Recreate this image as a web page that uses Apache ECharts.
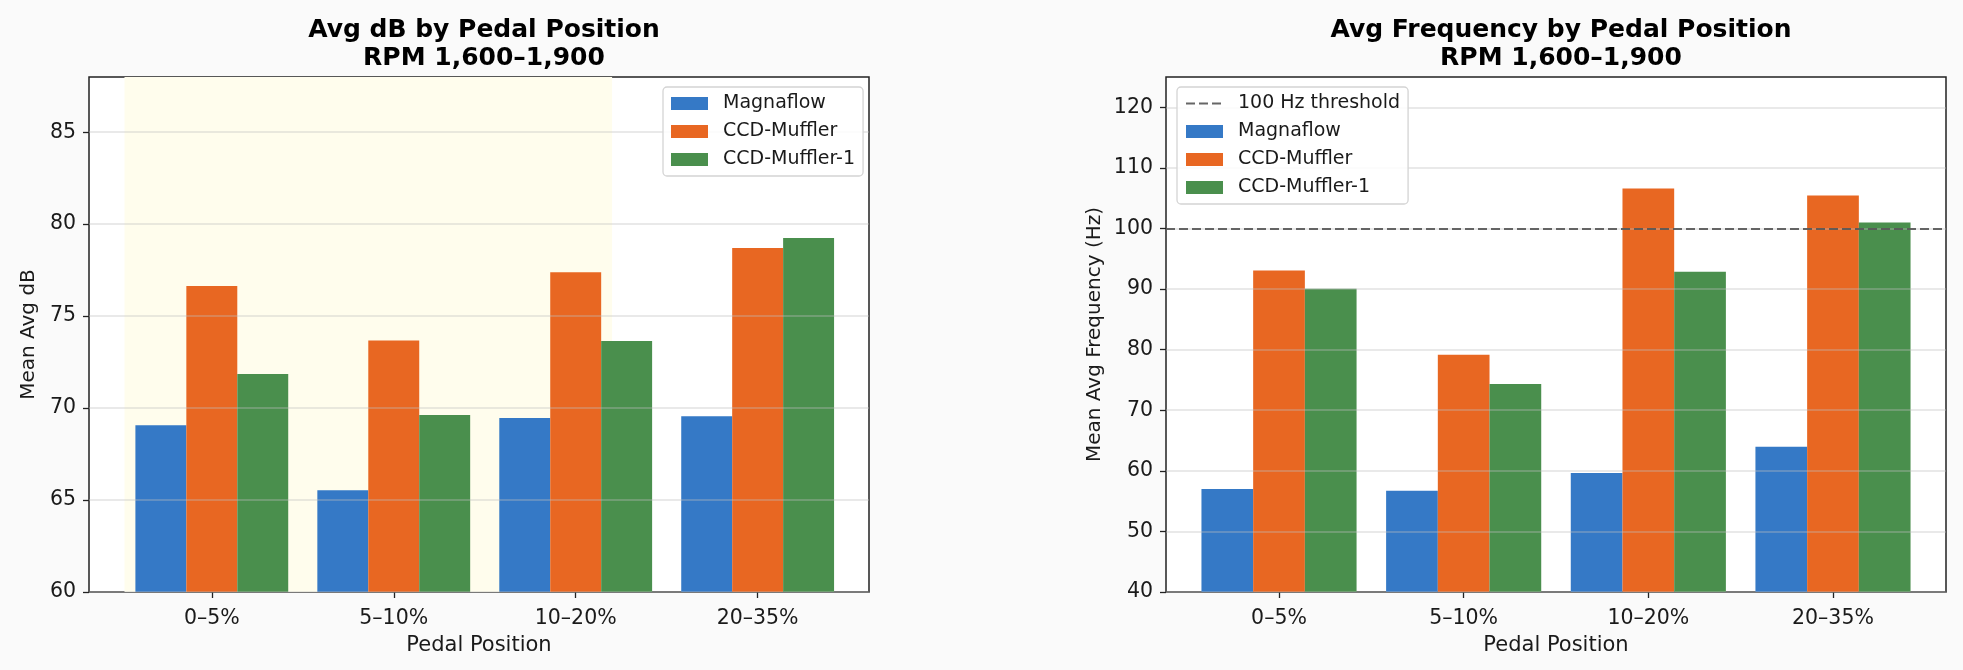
<!DOCTYPE html>
<html>
<head>
<meta charset="utf-8">
<script src="https://cdn.jsdelivr.net/npm/echarts@6/dist/echarts.min.js"></script>
<style>
  html, body { margin: 0; padding: 0; background: #fafafa; }
  #chart { width: 1963px; height: 670px; }
</style>
</head>
<body>
<div id="chart"></div>
<script>
// ---- data ----
const CATEGORIES = ['0–5%', '5–10%', '10–20%', '20–35%'];
const SERIES_NAMES = ['Magnaflow', 'CCD-Muffler', 'CCD-Muffler-1'];
const DB_MAGNAFLOW = [69.07, 65.53, 69.46, 69.55];
const DB_CCD_MUFFLER = [76.64, 73.68, 77.38, 78.70];
const DB_CCD_MUFFLER_1 = [71.85, 69.62, 73.64, 79.24];
const HZ_MAGNAFLOW = [57.0, 56.7, 59.65, 63.97];
const HZ_CCD_MUFFLER = [93.06, 79.16, 106.6, 105.45];
const HZ_CCD_MUFFLER_1 = [90.05, 74.35, 92.86, 100.98];
const DB_TICKS = [60, 65, 70, 75, 80, 85];
const HZ_TICKS = [40, 50, 60, 70, 80, 90, 100, 110, 120];
const THRESHOLD_HZ = 100;
const HIGHLIGHT_SPAN = [-0.48, 2.2];

// ---- style ----
const COLORS = ['#3579c6', '#e86722', '#4a8f4d'];
const FONT = 'DejaVu Sans';
const TXT = '#1a1a1a';
const CAT_X = CATEGORIES.map((c, i) => i);

function pairs(values) { return values.map((v, i) => [i, v]); }

function xAxisFor(gridIndex, min, max) {
  return {
    type: 'value', gridIndex, min, max,
    axisLine: { show: false, onZero: false },
    splitLine: { show: false },
    axisTick: { show: true, customValues: CAT_X, length: 6, lineStyle: { color: '#222', width: 1.3 } },
    axisLabel: { customValues: CAT_X, formatter: v => CATEGORIES[Math.round(v)], fontFamily: FONT, fontSize: 20.5, color: TXT, margin: 16 },
    name: 'Pedal Position', nameLocation: 'middle', nameGap: 43,
    nameTextStyle: { fontFamily: FONT, fontSize: 21, color: TXT }
  };
}
function yAxisFor(gridIndex, min, max, ticks, name, gap) {
  return {
    type: 'value', gridIndex, min, max, z: 3,
    axisLine: { show: false, onZero: false },
    axisTick: { show: true, customValues: ticks, length: 6, lineStyle: { color: '#222', width: 1.3 } },
    axisLabel: { customValues: ticks, fontFamily: FONT, fontSize: 20.5, color: TXT, margin: 13 },
    splitLine: { show: true, lineStyle: { color: 'rgba(190,190,190,0.45)', width: 1.5 } },
    name, nameLocation: 'middle', nameGap: gap,
    nameTextStyle: { fontFamily: FONT, fontSize: 20, color: TXT }
  };
}
function barSeries(name, values, idx, axisIndex) {
  return {
    type: 'bar', name, xAxisIndex: axisIndex, yAxisIndex: axisIndex,
    data: pairs(values), barWidth: '28%', barGap: '0%',
    itemStyle: { color: COLORS[idx] }, z: 2
  };
}
const legendCommon = {
  orient: 'vertical', itemWidth: 37, itemHeight: 13, itemGap: 9,
  padding: [7, 8, 7, 8], borderColor: '#d4d4d4', borderWidth: 1.3, borderRadius: 4,
  backgroundColor: 'rgba(255,255,255,0.85)',
  textStyle: { fontFamily: FONT, fontSize: 19, color: TXT, padding: [0, 0, 0, 10] }
};

const chart = echarts.init(document.getElementById('chart'));
chart.setOption({
  backgroundColor: '#fafafa',
  animation: false,
  title: [
    { text: 'Avg dB by Pedal Position\nRPM 1,600–1,900', left: 479, top: 11, textAlign: 'center',
      textStyle: { fontFamily: FONT, fontWeight: 'bold', fontSize: 25, lineHeight: 28, color: '#000' } },
    { text: 'Avg Frequency by Pedal Position\nRPM 1,600–1,900', left: 1556, top: 11, textAlign: 'center',
      textStyle: { fontFamily: FONT, fontWeight: 'bold', fontSize: 25, lineHeight: 28, color: '#000' } }
  ],
  grid: [
    { left: 89, width: 780, top: 77, height: 515, show: true, backgroundColor: '#fff', borderColor: '#222', borderWidth: 1.5 },
    { left: 1166, width: 780, top: 77, height: 515, show: true, backgroundColor: '#fff', borderColor: '#222', borderWidth: 1.5 }
  ],
  xAxis: [xAxisFor(0, -0.675, 3.612), xAxisFor(1, -0.612, 3.612)],
  yAxis: [
    yAxisFor(0, 60, 88, DB_TICKS, 'Mean Avg dB', 50),
    yAxisFor(1, 40, 125, HZ_TICKS, 'Mean Avg Frequency (Hz)', 61)
  ],
  legend: [
    Object.assign({}, legendCommon, {
      left: 663, top: 87,
      data: SERIES_NAMES.map(n => ({ name: n, icon: 'rect' })),
      selectedMode: false
    }),
    Object.assign({}, legendCommon, {
      left: 1177, top: 87,
      data: [{ name: '100 Hz threshold', itemStyle: { opacity: 0 } }].concat(SERIES_NAMES.map(n => ({ name: n, icon: 'rect' }))),
      selectedMode: false
    })
  ],
  series: [
    { type: 'line', name: 'highlight', xAxisIndex: 0, yAxisIndex: 0, data: [], z: 1, silent: true,
      markArea: { silent: true, itemStyle: { color: '#fffded' },
        data: [[{ xAxis: HIGHLIGHT_SPAN[0] }, { xAxis: HIGHLIGHT_SPAN[1] }]] } },
    barSeries(SERIES_NAMES[0], DB_MAGNAFLOW, 0, 0),
    barSeries(SERIES_NAMES[1], DB_CCD_MUFFLER, 1, 0),
    barSeries(SERIES_NAMES[2], DB_CCD_MUFFLER_1, 2, 0),
    barSeries(SERIES_NAMES[0], HZ_MAGNAFLOW, 0, 1),
    barSeries(SERIES_NAMES[1], HZ_CCD_MUFFLER, 1, 1),
    barSeries(SERIES_NAMES[2], HZ_CCD_MUFFLER_1, 2, 1),
    { type: 'line', name: '100 Hz threshold', xAxisIndex: 1, yAxisIndex: 1, data: [], z: 5,
      symbol: 'none', showSymbol: false, lineStyle: { color: '#555', width: 2, type: [9, 4], opacity: 0.9 },
      itemStyle: { color: '#555' },
      markLine: { silent: true, symbol: 'none', label: { show: false },
        lineStyle: { color: '#555', width: 2, type: [9, 4], opacity: 0.9 },
        data: [{ yAxis: THRESHOLD_HZ }] } }
  ]
});
</script>
</body>
</html>
